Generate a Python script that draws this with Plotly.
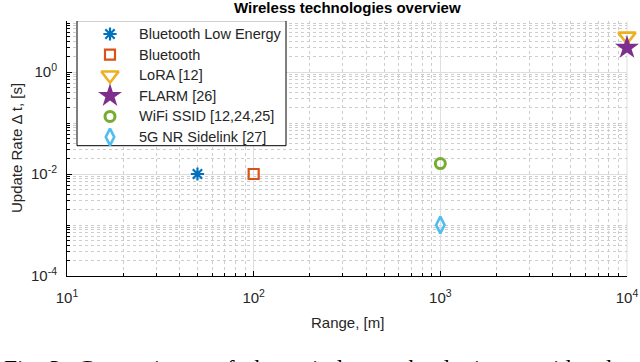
import plotly.graph_objects as go

# --- data ------------------------------------------------------------------
technologies = [
    "Bluetooth Low Energy",
    "Bluetooth",
    "LoRA [12]",
    "FLARM [26]",
    "WiFi SSID [12,24,25]",
    "5G NR Sidelink [27]",
]
range_m = [50, 100, 10000, 10000, 1000, 1000]
update_rate_s = [0.01, 0.01, 5, 3, 0.016, 0.001]

x_tick_vals = [10, 100, 1000, 10000]
x_tick_text = ["10<sup>1</sup>", "10<sup>2</sup>", "10<sup>3</sup>", "10<sup>4</sup>"]
y_tick_vals = [1e-4, 1e-2, 1]
y_tick_text = ["10<sup>-4</sup>", "10<sup>-2</sup>", "10<sup>0</sup>"]

caption_words = ["Fig.", "3:", "Comparison", "of", "the", "wireless", "technologies", "considered"]

# --- MATLAB-ish styling -----------------------------------------------------
STYLES = [
    dict(symbol="asterisk-open", color="#0072BD", size=11, width=2.2),
    dict(symbol="square-open", color="#D95319", size=10, width=2.2),
    dict(symbol="triangle-down-open", color="#EDB120", size=15, width=2.6),
    dict(symbol="star", color="#7E2F8E", size=18, width=0),
    dict(symbol="circle-open", color="#77AC30", size=10, width=3),
    dict(symbol="diamond-tall-open", color="#4DBEEE", size=12, width=2.6),
]
FONT = "Liberation Sans, Arial, sans-serif"
INK = "#262626"
MAJOR_GRID = "#dedede"
MINOR_GRID = "#cdcdcd"

W, H = 640, 362
L, R, T, B = 67, 13, 21, 86
PW, PH = W - L - R, H - T - B

# MATLAB-style legend box, in pixels
LEG_LEFT, LEG_RIGHT, LEG_TOP, LEG_BOTTOM = 77, 286, 20.7, 145.7
LEG_ROW0, LEG_ROW_STEP = 34, 20.6
LEG_SYMBOL_X, LEG_TEXT_X = 110, 137


def px_x(px):
    return (px - L) / PW


def px_y(py):
    return (H - B - py) / PH


def minor_vals(lo, hi, majors):
    vals = []
    for e in range(lo, hi):
        for k in range(1, 10):
            v = k * 10.0 ** e
            if not any(abs(v - m) / m < 1e-9 for m in majors):
                vals.append(v)
    return vals


def marker_of(st):
    return dict(
        symbol=st["symbol"], size=st["size"], color=st["color"],
        line=dict(color=st["color"], width=st["width"]),
    )


fig = go.Figure()
for name, x, y, st in zip(technologies, range_m, update_rate_s, STYLES):
    fig.add_trace(
        go.Scatter(
            x=[x], y=[y], name=name, mode="markers",
            marker=marker_of(st), cliponaxis=False, showlegend=False,
        )
    )

# legend on a pixel-space overlay axis: white box (covers the grid), symbols, labels
fig.add_trace(
    go.Scatter(
        x=[LEG_LEFT, LEG_RIGHT, LEG_RIGHT, LEG_LEFT, LEG_LEFT],
        y=[LEG_TOP, LEG_TOP, LEG_BOTTOM, LEG_BOTTOM, LEG_TOP],
        mode="lines", fill="toself", fillcolor="white",
        line=dict(color="black", width=1),
        xaxis="x2", yaxis="y2", showlegend=False, hoverinfo="skip", cliponaxis=False,
    )
)
for i, (name, st) in enumerate(zip(technologies, STYLES)):
    row_y = LEG_ROW0 + i * LEG_ROW_STEP
    fig.add_trace(
        go.Scatter(
            x=[LEG_SYMBOL_X], y=[row_y], mode="markers", name=name,
            marker=marker_of(st), xaxis="x2", yaxis="y2",
            showlegend=False, hoverinfo="skip", cliponaxis=False,
        )
    )
    fig.add_annotation(
        text=name, xref="paper", yref="paper",
        x=px_x(LEG_TEXT_X), y=px_y(row_y), xanchor="left", yanchor="middle",
        showarrow=False, font=dict(size=14.5, color=INK),
    )

fig.update_layout(
    width=W, height=H,
    margin=dict(l=L, r=R, t=T, b=B, autoexpand=False),
    paper_bgcolor="white", plot_bgcolor="white",
    font=dict(family=FONT, color=INK, size=14),
    showlegend=False,
    xaxis2=dict(overlaying="x", range=[L, W - R], visible=False, automargin=False),
    yaxis2=dict(overlaying="y", range=[H - B, T], visible=False, automargin=False),
)

axis_common = dict(
    type="log",
    tickfont=dict(size=15, color=INK),
    ticks="inside", ticklen=5, tickcolor="black",
    showline=True, linecolor="black", linewidth=1, mirror=False,
    showgrid=True, gridcolor=MAJOR_GRID, gridwidth=1, zeroline=False,
    automargin=False,
)
fig.update_layout(
    xaxis=dict(
        range=[1, 4], tickvals=x_tick_vals, ticktext=x_tick_text, ticklabelstandoff=8,
        minor=dict(
            tickvals=minor_vals(1, 4, x_tick_vals), ticks="inside", ticklen=3,
            tickcolor="black", showgrid=True, gridcolor=MINOR_GRID, griddash="dot", gridwidth=1,
        ),
        **axis_common,
    ),
    yaxis=dict(
        range=[-4, 1], tickvals=y_tick_vals, ticktext=y_tick_text, ticklabelstandoff=6,
        minor=dict(
            tickvals=minor_vals(-4, 1, y_tick_vals), ticks="inside", ticklen=3,
            tickcolor="black", showgrid=True, gridcolor=MINOR_GRID, griddash="dot", gridwidth=1,
        ),
        **axis_common,
    ),
)

# right-hand grid edge at 10^4 (MATLAB draws it as a grid line)
fig.add_shape(type="line", xref="paper", yref="paper", x0=1, x1=1, y0=0, y1=1,
              line=dict(color=MAJOR_GRID, width=1), layer="below")

# title and axis titles placed by pixel to match the MATLAB export
fig.add_annotation(
    text="<b>Wireless technologies overview</b>", xref="paper", yref="paper",
    x=px_x(347), y=px_y(7.5), xanchor="center", yanchor="middle", showarrow=False,
    font=dict(size=15, color="black"),
)
fig.add_annotation(
    text="Range, [m]", xref="paper", yref="paper",
    x=px_x(347), y=px_y(322), xanchor="center", yanchor="middle", showarrow=False,
    font=dict(size=15, color=INK),
)
fig.add_annotation(
    text="Update Rate \u0394 t, [s]", xref="paper", yref="paper", textangle=-90,
    x=px_x(16), y=px_y(148), xanchor="center", yanchor="middle", showarrow=False,
    font=dict(size=15, color=INK),
)

# clipped paper caption below the figure
caption_left_px = [2, 47, 76, 213, 246, 293, 379, 508]
for word, lx in zip(caption_words, caption_left_px):
    fig.add_annotation(
        text=word, xref="paper", yref="paper",
        x=px_x(lx), y=px_y(368), xanchor="left", yanchor="middle",
        showarrow=False,
        font=dict(family="Liberation Serif, Times New Roman, serif", size=23.5, color="black"),
    )

fig.write_html(
    "out.html",
    config={"displayModeBar": False},
    post_script="document.body.style.margin='0';",
)
